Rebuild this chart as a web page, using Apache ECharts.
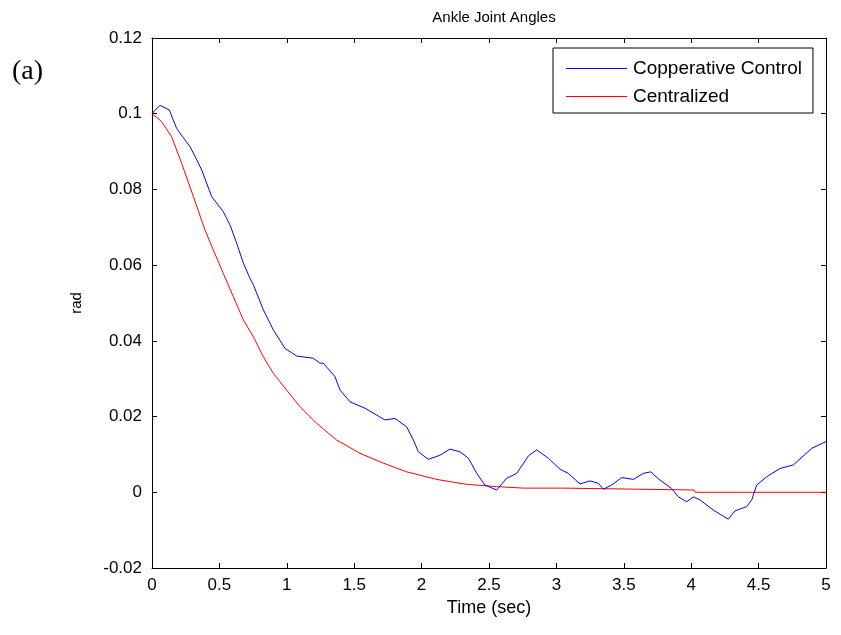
<!DOCTYPE html>
<html>
<head>
<meta charset="utf-8">
<script src="https://cdn.jsdelivr.net/npm/echarts@6/dist/echarts.min.js"></script>
<style>
html,body{margin:0;padding:0;background:#fff;}
#chart{width:841px;height:635px;}
</style>
</head>
<body>
<div id="chart"></div>
<script>
const chartTitle = 'Ankle Joint Angles';
const seriesNames = ['Copperative Control', 'Centralized'];
const seriesColors = ['#0000ff', '#ff0000'];
const xTicks = [0, 0.5, 1, 1.5, 2, 2.5, 3, 3.5, 4, 4.5, 5];
const yTicks = [-0.02, 0, 0.02, 0.04, 0.06, 0.08, 0.1, 0.12];

const blueT = [0, 0.03, 0.06, 0.128, 0.183, 0.23, 0.282, 0.33, 0.369, 0.443, 0.529, 0.58, 0.628, 0.678, 0.727, 0.752, 0.826, 0.9, 0.987, 1.073, 1.197, 1.246, 1.271, 1.358, 1.395, 1.469, 1.58, 1.667, 1.728, 1.803, 1.889, 1.939, 1.976, 2.05, 2.137, 2.21, 2.285, 2.347, 2.409, 2.47, 2.557, 2.631, 2.706, 2.792, 2.854, 2.94, 3.027, 3.088, 3.175, 3.249, 3.311, 3.348, 3.41, 3.484, 3.571, 3.645, 3.70, 3.769, 3.855, 3.905, 3.967, 4.016, 4.065, 4.164, 4.275, 4.325, 4.411, 4.449, 4.486, 4.56, 4.659, 4.757, 4.894, 5.0];
const blueV = [0.1, 0.1012, 0.1022, 0.101, 0.0961, 0.0938, 0.0913, 0.088, 0.0851, 0.0781, 0.0741, 0.0705, 0.0658, 0.0605, 0.0565, 0.0548, 0.0482, 0.0429, 0.038, 0.036, 0.0354, 0.0341, 0.0341, 0.0305, 0.027, 0.0239, 0.0222, 0.0204, 0.0191, 0.0195, 0.0173, 0.0138, 0.0107, 0.0087, 0.0098, 0.0114, 0.0107, 0.009, 0.005, 0.0019, 0.0006, 0.0037, 0.005, 0.0096, 0.0112, 0.009, 0.0061, 0.005, 0.0022, 0.003, 0.0024, 0.0008, 0.0019, 0.0039, 0.0034, 0.005, 0.0054, 0.0032, 0.001, -0.0012, -0.0025, -0.0012, -0.002, -0.0047, -0.0071, -0.0049, -0.0038, -0.002, 0.0019, 0.0041, 0.0063, 0.0072, 0.0116, 0.0134];

const redT = [0, 0.036, 0.072, 0.146, 0.22, 0.307, 0.393, 0.455, 0.529, 0.603, 0.678, 0.752, 0.826, 0.9, 0.999, 1.098, 1.222, 1.37, 1.543, 1.716, 1.889, 2.112, 2.335, 2.557, 2.755, 3.05, 3.06, 4.02, 4.03, 5.0];
const redV = [0.1, 0.099, 0.0979, 0.0939, 0.0869, 0.0781, 0.0693, 0.064, 0.0578, 0.0517, 0.0455, 0.0411, 0.0358, 0.0314, 0.027, 0.0226, 0.0182, 0.0138, 0.0103, 0.0077, 0.0054, 0.0034, 0.0021, 0.0015, 0.0011, 0.0011, 0.0006, 0.0006, 0.0, 0.0];

const zip = (t, v) => t.map((x, i) => [x, v[i]]);
const fmtY = v => String(parseFloat(v.toFixed(4)));
const fmtX = v => String(parseFloat(v.toFixed(2)));
const FONT = 'Liberation Sans, Arial, sans-serif';

const chart = echarts.init(document.getElementById('chart'), null, {renderer: 'canvas'});
const axisCommon = {
  axisLine: {show: true, onZero: false, lineStyle: {color: '#000', width: 1}},
  axisTick: {show: true, inside: true, length: 5, lineStyle: {color: '#000'}},
  splitLine: {show: false}
};
chart.setOption({
  backgroundColor: '#fff',
  animation: false,
  title: {
    text: chartTitle, left: 489, top: 5, textAlign: 'center',
    textStyle: {fontFamily: FONT, fontSize: 15, fontWeight: 'normal', color: '#000'}
  },
  legend: {
    orient: 'vertical', left: 553, top: 48,
    data: seriesNames.map((n, i) => ({
      name: n,
      icon: 'path://M0,0H61V1H0Z',
      itemStyle: {color: seriesColors[i], borderWidth: 0, opacity: 1}
    })),
    itemWidth: 61, itemHeight: 2, itemGap: 9,
    padding: [11, 11, 7, 13],
    backgroundColor: '#fff', borderColor: '#000', borderWidth: 1, borderRadius: 0,
    textStyle: {fontFamily: FONT, fontSize: 19, color: '#000', padding: [0, 0, 0, 1]}
  },
  graphic: [{
    type: 'text', left: 12, top: 58,
    style: {text: '(a)', font: '28px "Liberation Serif", "Times New Roman", serif', fill: '#000'}
  }],
  grid: {left: 152, right: 15, top: 38, bottom: 67, containLabel: false},
  xAxis: [
    Object.assign({}, axisCommon, {
      type: 'value', min: 0, max: 5, interval: 0.5, position: 'bottom',
      name: 'Time (sec)', nameLocation: 'middle', nameGap: 31,
      nameTextStyle: {fontFamily: FONT, fontSize: 18, color: '#000'},
      axisLabel: {fontFamily: FONT, fontSize: 17, color: '#000', margin: 9, formatter: fmtX}
    }),
    Object.assign({}, axisCommon, {
      type: 'value', min: 0, max: 5, interval: 0.5, position: 'top',
      axisLabel: {show: false}
    })
  ],
  yAxis: [
    Object.assign({}, axisCommon, {
      type: 'value', min: -0.02, max: 0.12, interval: 0.02, position: 'left',
      name: 'rad', nameLocation: 'middle', nameGap: 68, nameRotate: 90,
      nameTextStyle: {fontFamily: FONT, fontSize: 15, color: '#000'},
      axisLabel: {fontFamily: FONT, fontSize: 17, color: '#000', margin: 10, formatter: fmtY}
    }),
    Object.assign({}, axisCommon, {
      type: 'value', min: -0.02, max: 0.12, interval: 0.02, position: 'right',
      axisLabel: {show: false}
    })
  ],
  series: [
    {
      name: seriesNames[0], type: 'line', data: zip(blueT, blueV),
      showSymbol: false, symbol: 'none', smooth: false, color: seriesColors[0],
      lineStyle: {color: seriesColors[0], width: 1}, itemStyle: {color: seriesColors[0]}, z: 3
    },
    {
      name: seriesNames[1], type: 'line', data: zip(redT, redV),
      showSymbol: false, symbol: 'none', smooth: false, color: seriesColors[1],
      lineStyle: {color: seriesColors[1], width: 1}, itemStyle: {color: seriesColors[1]}, z: 2
    }
  ]
});
</script>
</body>
</html>
